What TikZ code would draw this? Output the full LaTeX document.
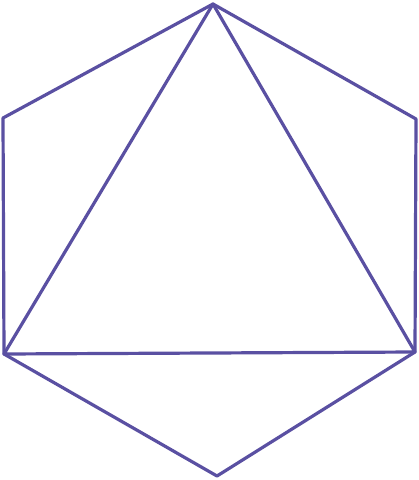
\documentclass[tikz,border=0pt]{standalone}
\usepackage{tikz}
\definecolor{penpurple}{RGB}{90,80,162}
\tikzstyle{edge}=[line width=3.2pt, penpurple, line join=round, line cap=round]

\begin{document}
\begin{tikzpicture}[x=1pt, y=-1pt]
        \useasboundingbox (0,0) rectangle (419,480);
        % hexagon corners
        \coordinate (top) at (213,4);
        \coordinate (ur) at (416,119);
        \coordinate (lr) at (415,352);
        \coordinate (bot) at (217,476);
        \coordinate (ll) at (4,354);
        \coordinate (ul) at (3,118);
        \draw[edge] (top) -- (ur) -- (lr) -- (bot) -- (ll) -- (ul) -- cycle;
        % triangle
        \draw[edge] (top) -- (lr) -- (ll) -- cycle;
    \end{tikzpicture}
\end{document}
